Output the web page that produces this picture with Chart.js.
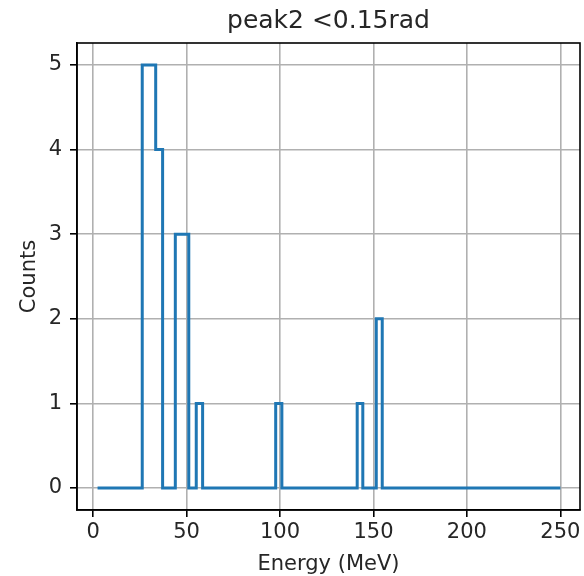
<!DOCTYPE html>
<html>
<head>
<meta charset="utf-8">
<script src="https://cdn.jsdelivr.net/npm/chart.js@4.4.1/dist/chart.umd.min.js"></script>
<style>
  html, body { margin: 0; padding: 0; background: #fff; }
</style>
</head>
<body>
<canvas id="myChart" width="584" height="576"></canvas>
<script>
    // histogram: left edge of each step, count of that step
    var binEdges = [2.4, 26.3, 33.5, 37.2, 44.0, 51.2, 55.2, 58.6, 97.7, 101.0, 141.3, 144.3, 151.5, 154.7, 250];
    var counts = [0, 5, 4, 0, 3, 0, 1, 0, 1, 0, 1, 0, 2, 0, 0];
    var xTicks = [0, 50, 100, 150, 200, 250];
    var yTicks = [0, 1, 2, 3, 4, 5];

    var TITLE = 'peak2 <0.15rad',
        FONT = 'DejaVu Sans',
        LINE_COLOR = '#1f77b4';

    (function () {
        var points = binEdges.map(function (x, i) {
            return { x: x, y: counts[i] };
        });

        // spines on all four sides plus the title over the plot area
        var framePlugin = {
            id: 'frame',
            afterDraw: function (chart) {
                var ctx = chart.ctx,
                    a = chart.chartArea;
                ctx.save();
                ctx.strokeStyle = '#000';
                ctx.lineWidth = 1.6;
                ctx.strokeRect(a.left, a.top, a.right - a.left, a.bottom - a.top);
                ctx.fillStyle = '#262626';
                ctx.font = '25px "' + FONT + '"';
                ctx.textAlign = 'center';
                ctx.textBaseline = 'middle';
                ctx.fillText(TITLE, (a.left + a.right) / 2, 21);
                ctx.restore();
            }
        };

        function setTicks(values) {
            return function (scale) {
                scale.ticks = values.map(function (v) { return { value: v }; });
            };
        }

        new Chart(document.getElementById('myChart').getContext('2d'), {
            type: 'line',
            data: {
                datasets: [{
                    data: points,
                    stepped: 'before',
                    borderColor: LINE_COLOR,
                    borderWidth: 3,
                    pointRadius: 0,
                    fill: false
                }]
            },
            options: {
                responsive: false,
                animation: false,
                devicePixelRatio: 1,
                layout: { padding: { top: 43, right: 4, left: 0, bottom: 0 } },
                plugins: {
                    legend: { display: false },
                    tooltip: { enabled: false }
                },
                scales: {
                    x: {
                        type: 'linear',
                        min: -8.6,
                        max: 260.5,
                        afterBuildTicks: setTicks(xTicks),
                        afterFit: function (scale) { scale.height = 66; },
                        grid: {
                            color: '#b0b0b0',
                            lineWidth: 1.6,
                            tickColor: '#000',
                            tickLength: 7,
                            tickWidth: 1.6
                        },
                        border: { display: true, color: '#000', width: 1.6 },
                        ticks: {
                            color: '#262626',
                            font: { family: FONT, size: 21 },
                            padding: 3,
                            maxRotation: 0
                        },
                        title: {
                            display: true,
                            text: 'Energy (MeV)',
                            color: '#262626',
                            font: { family: FONT, size: 21 },
                            padding: { top: 0, bottom: -1 }
                        }
                    },
                    y: {
                        type: 'linear',
                        min: -0.26,
                        max: 5.26,
                        afterBuildTicks: setTicks(yTicks),
                        afterFit: function (scale) { scale.width = 77; },
                        grid: {
                            color: '#b0b0b0',
                            lineWidth: 1.6,
                            tickColor: '#000',
                            tickLength: 7,
                            tickWidth: 1.6
                        },
                        border: { display: true, color: '#000', width: 1.6 },
                        ticks: {
                            color: '#262626',
                            font: { family: FONT, size: 21 },
                            padding: 8
                        },
                        title: {
                            display: true,
                            text: 'Counts',
                            color: '#262626',
                            font: { family: FONT, size: 21 },
                            padding: { top: 17, bottom: 0 }
                        }
                    }
                }
            },
            plugins: [framePlugin]
        });
    })();
</script>
</body>
</html>
